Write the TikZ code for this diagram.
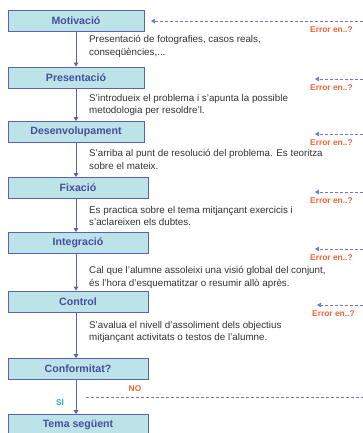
\documentclass[tikz,border=0pt]{standalone}
\usepackage{fontspec}
\setmainfont{Liberation Sans}
\usetikzlibrary{arrows.meta,positioning,calc}
\definecolor{stepfill}{RGB}{187,227,232}
\definecolor{stepline}{RGB}{90,98,176}
\definecolor{steptext}{RGB}{72,78,158}
\definecolor{errcol}{RGB}{240,100,55}
\definecolor{sicol}{RGB}{30,178,175}
\definecolor{backcol}{RGB}{112,118,200}
\definecolor{desccol}{RGB}{50,50,50}
\tikzset{
  phase/.style={draw=stepline,fill=stepfill,line width=.8pt,minimum width=136pt,
                minimum height=21pt,inner sep=0pt,
                font=\fontsize{10.6}{12}\selectfont\bfseries,text=steptext},
  widephase/.style={phase,minimum width=140pt},
  desc/.style={anchor=north west,align=left,inner sep=0pt,
               font=\fontsize{9.8}{12.6}\selectfont,text=desccol},
  errlbl/.style={anchor=west,inner sep=0pt,font=\fontsize{8.4}{10}\selectfont\bfseries,
                 text=errcol},
  flow/.style={-{Triangle[length=4pt,width=4.5pt]},draw=stepline,line width=.8pt},
  back/.style={-{Triangle[length=4pt,width=4.5pt]},draw=backcol,
               dash pattern=on 3pt off 2pt,line width=.7pt},
}

\begin{document}
\begin{tikzpicture}[x=1pt,y=-1pt]
  \clip (0,0) rectangle (363,433);
  \useasboundingbox (0,0) rectangle (363,433);
  % the phases
  \node[phase] (mot) at (76,20.5) {Motivació};
  \node[phase] (pres) at (76,77.5) {Presentació};
  \node[phase] (des) at (76,132) {Desenvolupament};
  \node[widephase] (fix) at (78,188) {Fixació};
  \node[widephase] (integ) at (78,243) {Integració};
  \node[widephase] (ctrl) at (78,301.5) {Control};
  \node[widephase] (conf) at (78,369) {Conformitat?};
  \node[widephase] (tema) at (78,425) {Tema següent};
  % main flow
  \coordinate (ax) at (76,0);
  \draw[flow] (mot.south -| ax) -- (pres.north -| ax);
  \draw[flow] (pres.south -| ax) -- (des.north -| ax);
  \draw[flow] (des.south -| ax) -- (fix.north -| ax);
  \draw[flow] (fix.south -| ax) -- (integ.north -| ax);
  \draw[flow] (integ.south -| ax) -- (ctrl.north -| ax);
  \draw[flow] (ctrl.south -| ax) -- (conf.north -| ax);
  \draw[flow] (conf.south -| ax) -- (tema.north -| ax);
  % descriptions
  \node[desc] (d1) at (89,35) {Presentació de fotografies, casos reals,\\ conseqüències,...};
  \node[desc] (d2) at (89,94) {S'introdueix el problema i s'apunta la possible\\ metodologia per resoldre'l.};
  \node[desc] (d3) at (89,149) {S'arriba al punt de resolució del problema. Es teoritza\\ sobre el mateix.};
  \node[desc] (d4) at (89,206) {Es practica sobre el tema mitjançant exercicis i\\ s'aclareixen els dubtes.};
  \node[desc] (d5) at (89,266) {Cal que l'alumne assoleixi una visió global del conjunt,\\ és l'hora d'esquematitzar o resumir allò après.};
  \node[desc] (d6) at (89,321) {S'avalua el nivell d'assoliment dels objectius\\ mitjançant activitats o testos de l'alumne.};
  % feedback
  \coordinate (r1) at (363,21);
  \coordinate (t1) at (151,21);
  \draw[back] (r1) -- (t1);
  \node[errlbl] (e1) at (310,30) {Error en..?};
  \foreach \n/\y/\x in {2/79/315,3/134/315,4/192/315,5/249/315,6/305/317}{
    \coordinate (r\n) at (363,\y);
    \coordinate (t\n) at (\x,\y);
    \draw[back] (r\n) -- (t\n);
    \node[errlbl] (e\n) at (\x-5,\y+9) {Error en..?};
  }
  \coordinate (nostart) at (86,397);
  \coordinate (noend) at (363,397);
  \draw[back,-] (nostart) -- (noend);
  \node[errlbl,anchor=center] (no) at (135,389) {NO};
  \node[errlbl,anchor=center,text=sicol] (si) at (60,403) {SI};
\end{tikzpicture}
\end{document}
